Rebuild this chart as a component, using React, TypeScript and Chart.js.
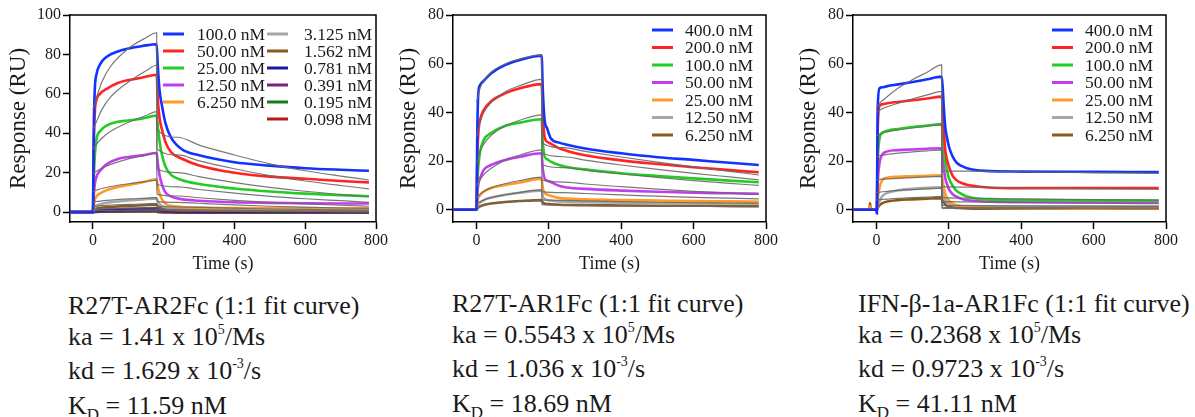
import React, { useEffect, useRef } from "react";
import { Chart, registerables } from "chart.js";
Chart.register(...registerables);

const FONT = "'Liberation Serif', 'Times New Roman', serif";

// ---------------- Panel 1 : R27T-AR2Fc ----------------
const P1_T = [-65, 0, 2, 5, 10, 20, 40, 70, 100, 140, 180, 183, 188, 195, 205, 220, 250, 300, 400, 500, 600, 700, 780];
const P1_LABELS = ["100.0 nM", "50.00 nM", "25.00 nM", "12.50 nM", "6.250 nM", "3.125 nM", "1.562 nM", "0.781 nM", "0.391 nM", "0.195 nM", "0.098 nM"];
const P1_COLORS = ["#1432ff", "#ff2424", "#22cc22", "#c23cf2", "#ff9a26", "#a6a6a6", "#8c5a18", "#1a1a9a", "#7a1f7a", "#1a7a1a", "#b01a1a"];
const P1_100 = [0, 0, 40, 62, 70, 75, 79, 81.5, 83, 84.3, 85.2, 75, 62, 54, 45, 38, 32, 28.8, 25.3, 23.6, 22.3, 21.5, 21];
const P1_50 = [0, 0, 30, 50, 57, 60, 62.7, 65.5, 67, 68.3, 69.7, 58, 48, 42, 35.5, 30.5, 27.2, 23.7, 20, 18, 16.9, 15.8, 15.1];
const P1_25 = [0, 0, 15, 28, 37, 41, 44, 45.8, 46.5, 47.5, 49, 44, 36, 29, 23, 19, 16.3, 14.3, 12, 10.5, 9.4, 8.6, 8.1];
const P1_12 = [0, 0, 8, 14, 18, 21, 24.5, 27, 28, 28.8, 30, 25, 19, 14, 10, 8, 6.6, 5.8, 5, 4.7, 4.5, 4.4, 4.4];
const P1_6 = [0, 0, 3, 6, 8, 9.5, 11.2, 12.8, 13.8, 15.2, 16.6, 13, 9.5, 6.5, 4.3, 3.2, 2.6, 2.3, 2.1, 2, 2, 2, 2];
const P1_3 = [0, 0, 1, 2.5, 3.3, 4, 4.8, 5.4, 5.9, 6.4, 7, 5.5, 4.2, 3.2, 2.5, 2, 1.7, 1.5, 1.3, 1.2, 1.1, 1.1, 1];
const P1_1_5 = [0, 0, 0.5, 1.2, 1.7, 2.1, 2.5, 2.9, 3.2, 3.5, 3.8, 3, 2.3, 1.8, 1.4, 1.1, 0.9, 0.8, 0.7, 0.6, 0.6, 0.5, 0.5];
const P1_0_78 = [0, 0, 0.3, 0.6, 0.8, 1, 1.2, 1.4, 1.6, 1.8, 2, 1.6, 1.2, 0.9, 0.7, 0.6, 0.5, 0.4, 0.4, 0.3, 0.3, 0.3, 0.3];
const P1_0_39 = [0, 0, 0.2, 0.3, 0.4, 0.5, 0.6, 0.7, 0.8, 0.9, 1, 0.8, 0.6, 0.4, 0.3, 0.2, 0.2, 0.1, 0.1, 0.1, 0, 0, 0];
const P1_0_19 = [0, 0, 0.1, 0.2, 0.2, 0.3, 0.3, 0.4, 0.4, 0.5, 0.6, 0.4, 0.3, 0.2, 0.1, 0.1, 0, 0, 0, -0.1, -0.1, -0.1, -0.1];
const P1_0_09 = [0, 0, 0.1, 0.1, 0.1, 0.2, 0.2, 0.2, 0.3, 0.3, 0.3, 0.1, 0, -0.1, -0.2, -0.2, -0.3, -0.3, -0.3, -0.3, -0.3, -0.3, -0.3];

const P1_FT = [0, 10, 25, 50, 100, 150, 180, 181, 240, 300, 400, 500, 600, 700, 780];
const P1_F100 = [52, 58, 66, 74, 83, 88.5, 91, 42, 38, 34, 29, 24.5, 21, 18.3, 16.3];
const P1_F50 = [42, 46, 52, 58.5, 66, 71.7, 74.5, 32, 29, 26, 22, 18.5, 15.8, 13.5, 11.8];
const P1_F25 = [32, 34.5, 37.5, 41, 45.5, 49, 51, 22, 20, 18, 15, 12.6, 10.6, 9, 7.8];
const P1_F12 = [19.6, 20.8, 22.3, 24.2, 27, 29, 30, 14, 12.8, 11.5, 9.6, 8, 6.8, 5.8, 5];
const P1_F6 = [10.7, 11.2, 12, 13, 14.4, 15.5, 16.2, 9, 8.2, 7.3, 6, 5, 4.2, 3.5, 3];
const P1_F3 = [5.2, 5.4, 5.7, 6.1, 6.7, 7.1, 7.4, 5.5, 5, 4.5, 3.7, 3, 2.5, 2.1, 1.9];
const P1_F1_5 = [3, 3.1, 3.3, 3.6, 3.9, 4.2, 4.4, 3, 2.7, 2.4, 2, 1.6, 1.4, 1.2, 1];
const P1_F0_78 = [1.5, 1.6, 1.7, 1.8, 2, 2.1, 2.2, 1.5, 1.4, 1.2, 1, 0.8, 0.7, 0.6, 0.5];
const P1_F0_39 = [0.8, 0.8, 0.9, 0.9, 1, 1.1, 1.1, 0.8, 0.7, 0.6, 0.5, 0.4, 0.4, 0.3, 0.3];

// ---------------- Panel 2 : R27T-AR1Fc ----------------
const P2_T = [-65, 0, 2, 5, 10, 20, 40, 80, 120, 180, 183, 188, 195, 205, 230, 250, 300, 400, 500, 600, 700, 780];
const P23_LABELS = ["400.0 nM", "200.0 nM", "100.0 nM", "50.00 nM", "25.00 nM", "12.50 nM", "6.250 nM"];
const P23_COLORS = ["#1432ff", "#ff2424", "#22cc22", "#c23cf2", "#ff9a26", "#a6a6a6", "#8c5a18"];
const P2_400 = [0, 0, 30, 48, 51.3, 53, 56, 59.5, 61.5, 63.3, 50, 37, 33.5, 29.4, 27.5, 26.7, 25.2, 23.2, 21.6, 20.5, 19.3, 18.4];
const P2_200 = [0, 0, 20, 31.5, 37, 41, 44.5, 47.9, 49.9, 51.6, 40, 30, 28, 27.2, 25.2, 24.2, 22.4, 20.3, 18.8, 17.5, 16.3, 15.4];
const P2_100 = [0, 0, 10, 18, 24, 28.7, 31.5, 34.5, 35.8, 37.2, 28, 22, 20.8, 19.8, 18.3, 17.6, 16.6, 15, 13.9, 12.9, 12, 11.3];
const P2_50 = [0, 0, 6, 10.5, 13, 16.4, 18.4, 20.5, 21.8, 23.2, 17, 13, 12, 11.4, 9.8, 9.2, 8.6, 7.9, 7.4, 7, 6.8, 6.6];
const P2_25 = [0, 0, 3, 5, 6, 7.5, 9, 10.2, 11.2, 12.8, 9, 7, 6.3, 5.8, 4.8, 4.6, 4.3, 4, 3.8, 3.6, 3.5, 3.4];
const P2_12 = [0, 0, 1.5, 2.5, 3, 4, 5, 6.2, 7, 8, 5.5, 4.5, 4, 3.8, 3.4, 3.3, 3.1, 2.9, 2.8, 2.7, 2.6, 2.6];
const P2_6 = [0, 0, 0.5, 1, 1.4, 2, 2.6, 3.2, 3.6, 4, 3, 2.6, 2.4, 2.3, 2.1, 2, 1.9, 1.8, 1.7, 1.7, 1.6, 1.6];

const P2_FT = [0, 10, 20, 40, 80, 120, 180, 181, 240, 300, 400, 500, 600, 700, 780];
const P2_F400 = [44, 50, 53, 56.5, 60, 62, 63.6, 27.4, 25.5, 24, 21.7, 19.6, 17.6, 15.8, 14.3];
const P2_F200 = [30, 36, 40, 44, 48.5, 51, 53.6, 23.3, 21.8, 20.4, 18.4, 16.6, 15, 13.5, 12.3];
const P2_F100 = [19, 24, 27, 30.5, 34.5, 36.8, 39, 18.5, 17.3, 16.3, 14.7, 13.3, 12, 10.9, 10];
const P2_F50 = [10, 12.5, 14.5, 17, 20.5, 22.5, 24.6, 12.3, 11.4, 10.6, 9.5, 8.5, 7.6, 6.9, 6.3];
const P2_F25 = [5, 6.5, 7.5, 9, 10.8, 12, 13.4, 7.5, 7.1, 6.7, 6.1, 5.6, 5.1, 4.8, 4.5];
const P2_F12 = [2.5, 3.3, 4, 5, 6.2, 7.2, 8.2, 4.1, 3.9, 3.7, 3.4, 3.1, 2.9, 2.8, 2.7];
const P2_F6 = [1.2, 1.6, 2, 2.5, 3.1, 3.5, 4, 2.1, 1.9, 1.8, 1.6, 1.5, 1.4, 1.3, 1.2];

// ---------------- Panel 3 : IFN-β-1a-AR1Fc ----------------
const P3_T = [-65, -20, -18, -16, 0, 1, 3, 8, 15, 30, 60, 100, 140, 180, 183, 186, 190, 195, 200, 210, 220, 235, 250, 300, 400, 600, 780];
const P3_400 = [0, 0, 0, 0, 0, -1.5, 40, 49.8, 50.3, 50.8, 51.5, 52.5, 53.6, 54.7, 50, 42, 34, 29.5, 26, 22, 19.6, 18, 17.1, 16, 15.7, 15.6, 15.5];
const P3_200 = [0, 0, 0, 0, 0, -1, 30, 42.5, 43.3, 43.8, 44.3, 45, 45.7, 46.5, 42, 33, 24.6, 20.5, 17.8, 14, 12.3, 11, 10.3, 9.3, 8.9, 8.9, 8.9];
const P3_100 = [0, 0, 0, 0, 0, -0.5, 18, 29, 31.5, 32.5, 33.2, 34, 34.6, 35.2, 31, 26, 20, 16, 13, 10, 8, 6.5, 5.5, 4.3, 4, 3.9, 3.8];
const P3_50 = [0, 0, 0, 0, 0, -0.5, 10, 19, 22.5, 24, 24.5, 24.8, 25.1, 25.3, 22, 17, 13, 10.5, 8.5, 6.5, 5.5, 4.5, 4, 3.4, 3.1, 3, 3];
const P3_25 = [0, 0, 1.5, 0, 0, -0.5, 4, 9, 12, 13.2, 13.6, 13.8, 14, 14.2, 12, 9, 6.5, 4.8, 3.8, 2.6, 2, 1.5, 1.2, 0.9, 0.6, 0.5, 0.5];
const P3_12 = [0, 0, 0, 0, 0, 0, 1.5, 3.5, 5.5, 7, 8, 8.6, 9, 9.3, 6.5, 5, 3.8, 3, 2.5, 2, 1.8, 1.6, 1.5, 1.4, 1.3, 1.3, 1.3];
const P3_6 = [0, 0, 2.7, 0, 0, 0, 0.8, 1.8, 2.6, 3.4, 4, 4.3, 4.6, 4.8, 3.8, 3, 2.2, 1.6, 1.3, 1, 0.8, 0.7, 0.6, 0.5, 0.5, 0.5, 0.5];

const P3_FT = [0, 10, 30, 60, 100, 140, 180, 181, 250, 400, 600, 780];
const P3_F400 = [42, 44, 46.5, 50, 53.5, 56.5, 59.5, 16, 15.9, 15.6, 15.3, 15];
const P3_F200 = [40, 41, 42.3, 43.8, 45.6, 47.2, 48.6, 9.5, 9.3, 9, 8.7, 8.5];
const P3_F100 = [30.5, 31.2, 32, 32.8, 33.6, 34.3, 34.9, 5, 4.8, 4.5, 4.2, 4];
const P3_F50 = [21.9, 22.3, 22.8, 23.3, 23.8, 24.2, 24.6, 3.5, 3.3, 3, 2.7, 2.5];
const P3_F25 = [12.3, 12.5, 12.7, 12.9, 13.2, 13.5, 13.7, 1.8, 1.7, 1.6, 1.5, 1.4];
const P3_F12 = [7, 7.3, 7.6, 8, 8.3, 8.6, 8.9, 1, 0.95, 0.9, 0.85, 0.8];
const P3_F6 = [4.1, 4.2, 4.4, 4.7, 5, 5.2, 5.5, 0.6, 0.55, 0.5, 0.45, 0.4];

const X_TICKS = [0, 200, 400, 600, 800];
const Y_TICKS_1 = [0, 20, 40, 60, 80, 100];
const Y_TICKS_23 = [0, 20, 40, 60, 80];

// ---------------- Text below ----------------
const TITLES = ["R27T-AR2Fc (1:1 fit curve)", "R27T-AR1Fc (1:1 fit curve)", "IFN-β-1a-AR1Fc (1:1 fit curve)"];
const KA = ["1.41", "0.5543", "0.2368"];
const KDR = ["1.629", "1.036", "0.9723"];
const KDE = ["11.59", "18.69", "41.11"];

const framePlugin: any = {
  id: "frameLegend",
  afterDraw(chart: any, _args: any, opts: any) {
    const { ctx, chartArea: a } = chart;
    ctx.save();
    ctx.strokeStyle = "#000";
    ctx.lineWidth = 1.5;
    ctx.beginPath();
    ctx.moveTo(a.left, a.top);
    ctx.lineTo(a.right, a.top);
    ctx.lineTo(a.right, a.bottom);
    ctx.stroke();
    ctx.font = `17.5px ${FONT}`;
    ctx.textBaseline = "middle";
    ctx.textAlign = "left";
    for (const col of opts.columns || []) {
      col.items.forEach((idx: number, r: number) => {
        const ds = chart.data.datasets[idx];
        const y = col.rowY[r];
        ctx.strokeStyle = ds.borderColor;
        ctx.lineWidth = 3;
        ctx.beginPath();
        ctx.moveTo(col.lineX, y);
        ctx.lineTo(col.lineX + 21, y);
        ctx.stroke();
        ctx.fillStyle = "#1a1a1a";
        ctx.fillText(ds.label, col.textX, y + 1);
      });
    }
    ctx.restore();
  },
};

type PanelCfg = {
  left: number;
  width: number;
  yMax: number;
  yTicks: number[];
  yAxisWidth: number;
  padRight: number;
  t: number[];
  labels: string[];
  colors: string[];
  series: number[][];
  ft: number[];
  fits: number[][];
  columns: { lineX: number; textX: number; rowY: number[]; items: number[] }[];
};

const HEIGHT = 280;

function Panel({ cfg }: { cfg: PanelCfg }) {
  const ref = useRef<HTMLCanvasElement | null>(null);
  useEffect(() => {
    if (!ref.current) return;
    const dataSets: any[] = cfg.series.map((vals, i) => ({
      label: cfg.labels[i],
      data: cfg.t.map((t, k) => ({ x: t, y: vals[k] })),
      borderColor: cfg.colors[i],
      borderWidth: 2.6,
      pointRadius: 0,
      fill: false,
      cubicInterpolationMode: "monotone",
      order: 2,
    }));
    const fitSets: any[] = cfg.fits.map((vals, i) => ({
      label: "fit " + i,
      data: cfg.ft.map((t, k) => ({ x: t, y: vals[k] })),
      borderColor: "rgba(105,105,105,0.9)",
      borderWidth: 1.2,
      pointRadius: 0,
      fill: false,
      cubicInterpolationMode: "monotone",
      order: 1,
    }));
    const tickFont = { family: FONT, size: 16 };
    const chart = new Chart(ref.current, {
      type: "line",
      data: { datasets: [...dataSets, ...fitSets] },
      options: {
        animation: false,
        responsive: false,
        devicePixelRatio: 1,
        layout: { padding: { left: 0, top: 15, right: cfg.padRight, bottom: 0 } },
        plugins: {
          legend: { display: false },
          tooltip: { enabled: false },
          frameLegend: { columns: cfg.columns },
        } as any,
        scales: {
          x: {
            type: "linear",
            min: -65,
            max: 800,
            afterBuildTicks: (s: any) => {
              s.ticks = X_TICKS.map((v) => ({ value: v }));
            },
            afterFit: (s: any) => {
              s.height = HEIGHT - 222;
            },
            ticks: { font: tickFont, color: "#1a1a1a", padding: 2, maxRotation: 0 },
            grid: { drawOnChartArea: false, drawTicks: true, tickLength: 7, tickColor: "#000", tickWidth: 1.5 },
            border: { display: true, color: "#000", width: 1.5 },
            title: { display: true, text: "Time (s)", font: { family: FONT, size: 18 }, color: "#1a1a1a", padding: { top: 0, bottom: 5 } },
          },
          y: {
            type: "linear",
            min: -5,
            max: cfg.yMax,
            afterBuildTicks: (s: any) => {
              s.ticks = cfg.yTicks.map((v) => ({ value: v }));
            },
            afterFit: (s: any) => {
              s.width = cfg.yAxisWidth;
            },
            ticks: { font: tickFont, color: "#1a1a1a", padding: 2 },
            grid: { drawOnChartArea: false, drawTicks: true, tickLength: 7, tickColor: "#000", tickWidth: 1.5 },
            border: { display: true, color: "#000", width: 1.5 },
            title: { display: true, text: "Response (RU)", font: { family: FONT, size: 23 }, color: "#1a1a1a", padding: { top: 5, bottom: 0 } },
          },
        },
      } as any,
      plugins: [framePlugin],
    });
    return () => chart.destroy();
  }, [cfg]);
  return (
    <canvas
      ref={ref}
      width={cfg.width}
      height={HEIGHT}
      style={{ position: "absolute", left: cfg.left, top: 0, width: cfg.width, height: HEIGHT }}
    />
  );
}

const ROWS_1 = [34, 51, 68, 85, 102, 119];
const ROWS_23 = [30, 47.5, 65, 82.5, 100, 117.5, 135];

const PANELS: PanelCfg[] = [
  {
    left: 0,
    width: 390,
    yMax: 100,
    yTicks: Y_TICKS_1,
    yAxisWidth: 70,
    padRight: 13,
    t: P1_T,
    labels: P1_LABELS,
    colors: P1_COLORS,
    series: [P1_100, P1_50, P1_25, P1_12, P1_6, P1_3, P1_1_5, P1_0_78, P1_0_39, P1_0_19, P1_0_09],
    ft: P1_FT,
    fits: [P1_F100, P1_F50, P1_F25, P1_F12, P1_F6, P1_F3, P1_F1_5, P1_F0_78, P1_F0_39],
    columns: [
      { lineX: 163, textX: 197, rowY: ROWS_1, items: [0, 1, 2, 3, 4] },
      { lineX: 267, textX: 304, rowY: ROWS_1, items: [5, 6, 7, 8, 9, 10] },
    ],
  },
  {
    left: 390,
    width: 390,
    yMax: 80,
    yTicks: Y_TICKS_23,
    yAxisWidth: 63,
    padRight: 14,
    t: P2_T,
    labels: P23_LABELS,
    colors: P23_COLORS,
    series: [P2_400, P2_200, P2_100, P2_50, P2_25, P2_12, P2_6],
    ft: P2_FT,
    fits: [P2_F400, P2_F200, P2_F100, P2_F50, P2_F25, P2_F12, P2_F6],
    columns: [{ lineX: 262, textX: 295, rowY: ROWS_23, items: [0, 1, 2, 3, 4, 5, 6] }],
  },
  {
    left: 790,
    width: 405,
    yMax: 80,
    yTicks: Y_TICKS_23,
    yAxisWidth: 63,
    padRight: 29,
    t: P3_T,
    labels: P23_LABELS,
    colors: P23_COLORS,
    series: [P3_400, P3_200, P3_100, P3_50, P3_25, P3_12, P3_6],
    ft: P3_FT,
    fits: [P3_F400, P3_F200, P3_F100, P3_F50, P3_F25, P3_F12, P3_F6],
    columns: [{ lineX: 262, textX: 295, rowY: ROWS_23, items: [0, 1, 2, 3, 4, 5, 6] }],
  },
];

const BLOCK_POS = [
  { left: 68, top: 291 },
  { left: 452, top: 289 },
  { left: 858, top: 289 },
];

const supStyle: React.CSSProperties = { fontSize: 14, position: "relative", top: -11 };
const subStyle: React.CSSProperties = { fontSize: 17, position: "relative", top: 6 };

export default function App() {
  return (
    <div
      style={{
        position: "absolute",
        left: 0,
        top: 0,
        width: 1195,
        height: 417,
        background: "#fff",
        overflow: "hidden",
      }}
    >
      {PANELS.map((p, i) => (
        <Panel key={i} cfg={p} />
      ))}
      {TITLES.map((title, i) => (
        <div
          key={i}
          style={{
            position: "absolute",
            left: BLOCK_POS[i].left,
            top: BLOCK_POS[i].top,
            fontFamily: FONT,
            fontSize: 26,
            lineHeight: "30.7px",
            color: "#1a1a1a",
            whiteSpace: "nowrap",
          }}
        >
          <div>{title}</div>
          <div>
            ka = {KA[i]} x 10<span style={supStyle}>5</span>/Ms
          </div>
          <div>
            kd = {KDR[i]} x 10<span style={supStyle}>-3</span>/s
          </div>
          <div>
            K<span style={subStyle}>D</span> = {KDE[i]} nM
          </div>
        </div>
      ))}
    </div>
  );
}
